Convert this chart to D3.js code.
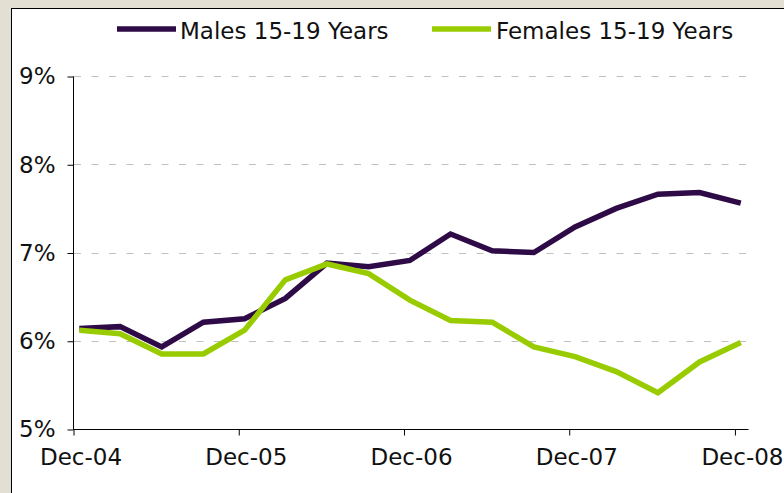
<!DOCTYPE html>
<html><head><meta charset="utf-8">
<script src="https://cdn.jsdelivr.net/npm/d3@7"></script>
<style>
html,body{margin:0;padding:0;background:#e3e0d3;}
svg{display:block;}
text{font-family:"DejaVu Sans",Verdana,sans-serif;fill:#111;}
</style></head>
<body>
<svg id="chart" width="784" height="493"></svg>
<script>
// Quarterly dates (Dec-04 .. Dec-08)
const quarters = ["Dec-04","Mar-05","Jun-05","Sep-05","Dec-05","Mar-06","Jun-06","Sep-06","Dec-06","Mar-07","Jun-07","Sep-07","Dec-07","Mar-08","Jun-08","Sep-08","Dec-08"];
const males   = [6.14,6.16,5.93,6.21,6.25,6.48,6.88,6.84,6.91,7.21,7.02,7.00,7.29,7.50,7.66,7.68,7.56];
const females = [6.12,6.08,5.85,5.85,6.12,6.69,6.87,6.76,6.46,6.23,6.21,5.93,5.82,5.65,5.41,5.76,5.98];
const seriesNames = ["Males 15-19 Years","Females 15-19 Years"];
const yTicks = [5,6,7,8,9];
const xTickLabels = ["Dec-04","Dec-05","Dec-06","Dec-07","Dec-08"];

const colors = ["#2e0a46","#99cc00"];
const monthIdx = {Dec:11,Mar:2,Jun:5,Sep:8};
function parseQ(s){const [m,y]=s.split("-");return new Date(2000+ +y, monthIdx[m], 15);}
function parseTick(s){const [m,y]=s.split("-");return new Date(2000+ +y, monthIdx[m], 1);}

const FS = 23;
const svg = d3.select("#chart");
// panel
svg.append("rect").attr("x",11.5).attr("y",8.5).attr("width",800).attr("height",600)
  .attr("fill","#fff").attr("stroke","#000").attr("stroke-width",1);

const x = d3.scaleTime().domain([new Date(2004,11,1), new Date(2008,11,31)]).range([73,748]);
const y = d3.scaleLinear().domain([5,9]).range([429,76]);

// gridlines
svg.append("g").selectAll("line").data(yTicks.filter(d=>d>5)).join("line")
  .attr("x1",74).attr("x2",748).attr("y1",d=>Math.round(y(d))+0.5).attr("y2",d=>Math.round(y(d))+0.5)
  .attr("stroke","#c0c0c0").attr("stroke-width",1).attr("stroke-dasharray","7,10.5");

// y axis
const yAxis = svg.append("g").attr("transform","translate(73.5,0.5)")
  .call(d3.axisLeft(y).tickValues(yTicks).tickFormat(d=>d+"%").tickSize(6).tickPadding(12));
yAxis.select(".domain").attr("d",`M0,${y(9)}V${y(5)}`);
yAxis.selectAll("text").attr("font-size",FS).style("font-family","'DejaVu Sans',Verdana,sans-serif").attr("fill","#111");

// x axis
const xAxis = svg.append("g").attr("transform","translate(0.5,429.5)")
  .call(d3.axisBottom(x).tickValues(xTickLabels.map(parseTick)).tickFormat((d,i)=>xTickLabels[i]).tickSize(6).tickPadding(13));
xAxis.select(".domain").attr("d",`M${x.range()[0]},0H${x.range()[1]}`);
xAxis.selectAll("text").attr("font-size",FS).attr("dx",7).attr("dy","0.72em")
  .style("font-family","'DejaVu Sans',Verdana,sans-serif").attr("fill","#111");

// lines
const line = d3.line().x((d,i)=>x(parseQ(quarters[i]))).y(d=>y(d));
[males,females].forEach((s,k)=>{
  svg.append("path").datum(s).attr("d",line).attr("fill","none")
    .attr("stroke",colors[k]).attr("stroke-width",5.5).attr("stroke-linejoin","miter");
});

// legend
const legX = [117,432], legTextX=[180,496];
seriesNames.forEach((n,k)=>{
  svg.append("line").attr("x1",legX[k]).attr("x2",legX[k]+59).attr("y1",29).attr("y2",29)
    .attr("stroke",colors[k]).attr("stroke-width",5.5);
  svg.append("text").attr("x",legTextX[k]).attr("y",38.5).attr("font-size",FS).text(n);
});
</script>
</body></html>
